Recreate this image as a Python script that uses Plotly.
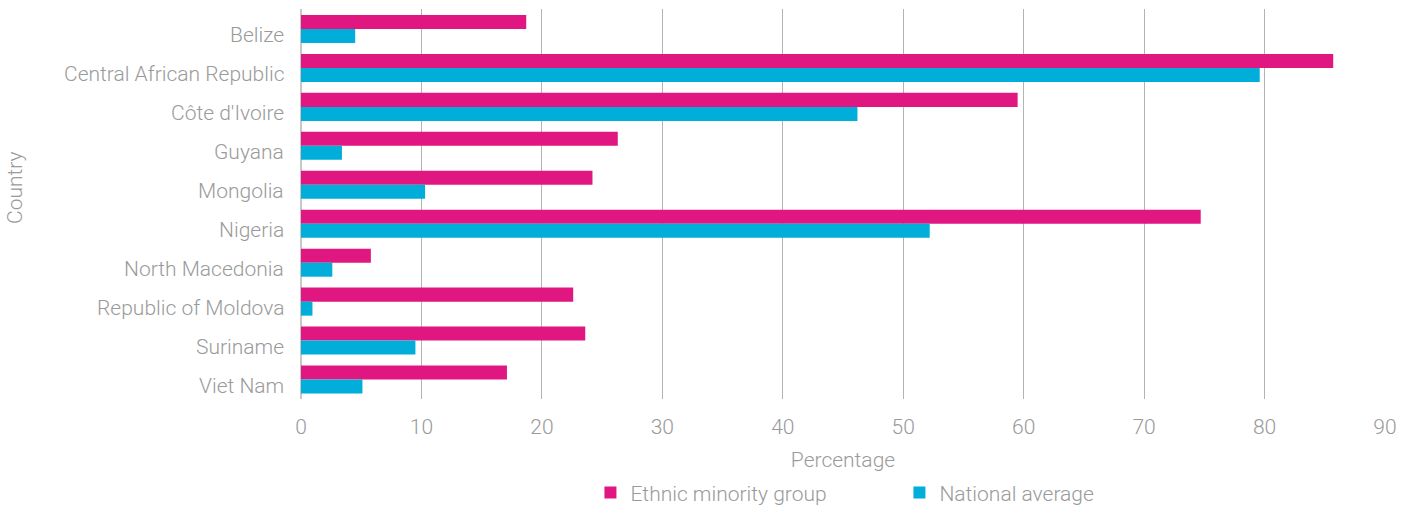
import plotly.graph_objects as go

countries = ["Belize", "Central African Republic", "Côte d'Ivoire", "Guyana", "Mongolia",
             "Nigeria", "North Macedonia", "Republic of Moldova", "Suriname", "Viet Nam"]
ethnic_minority = [18.7, 85.7, 59.5, 26.3, 24.2, 74.7, 5.8, 22.6, 23.6, 17.1]
national_average = [4.5, 79.6, 46.2, 3.4, 10.3, 52.2, 2.6, 0.95, 9.5, 5.1]
x_ticks = [0, 10, 20, 30, 40, 50, 60, 70, 80, 90]

PINK = "#E11781"
BLUE = "#00AED9"
GREY = "#9A9A9A"
FONT = "Roboto"
FS = 21

fig = go.Figure()
fig.add_trace(go.Bar(y=countries, x=ethnic_minority, orientation="h",
                     name="Ethnic minority group", marker=dict(color=PINK, line=dict(width=0))))
fig.add_trace(go.Bar(y=countries, x=national_average, orientation="h",
                     name="National average", marker=dict(color=BLUE, line=dict(width=0))))

# category labels, drawn slightly below the bar-group centre as in the reference
for c in countries:
    fig.add_annotation(x=0, xref="paper", xanchor="right", xshift=-15,
                       y=c, yref="y", yanchor="middle", yshift=-6,
                       text=c, showarrow=False,
                       font=dict(size=FS, color=GREY, family=FONT, weight=300))

# y-axis title
fig.add_annotation(x=0, xref="paper", xanchor="center", xshift=-286,
                   y=0.541, yref="paper", yanchor="middle", textangle=-90,
                   text="Country", showarrow=False,
                   font=dict(size=FS, color=GREY, family=FONT, weight=300))

fig.update_layout(
    width=1413, height=506,
    margin=dict(l=301, r=28, t=9, b=107, autoexpand=False),
    paper_bgcolor="white", plot_bgcolor="white",
    barmode="group", bargap=0.28, bargroupgap=0,
    font=dict(family=FONT, color=GREY, size=FS, weight=300),
    showlegend=True,
    legend=dict(orientation="h", x=0.267, xanchor="left", xref="paper",
                y=0.026, yanchor="middle", yref="container",
                font=dict(size=FS, color=GREY, family=FONT, weight=300),
                entrywidth=264, itemwidth=30, traceorder="normal"),
    xaxis=dict(range=[0, 90], tickvals=x_ticks, showgrid=True, gridcolor="#B4B4B4", gridwidth=1,
               zeroline=True, zerolinecolor="#C8C8C8", zerolinewidth=2, showline=False,
               ticks="", automargin=False, ticklabelstandoff=13,
               tickfont=dict(size=FS, color=GREY, family=FONT, weight=300),
               title=dict(text="Percentage", standoff=19,
                          font=dict(size=FS, color=GREY, family=FONT, weight=300))),
    yaxis=dict(autorange="reversed", showgrid=False, zeroline=False, showline=False, ticks="",
               showticklabels=False, automargin=False),
)

fig.write_html("out.html", config={"displayModeBar": False},
               post_script="document.body.style.margin='0px';")
